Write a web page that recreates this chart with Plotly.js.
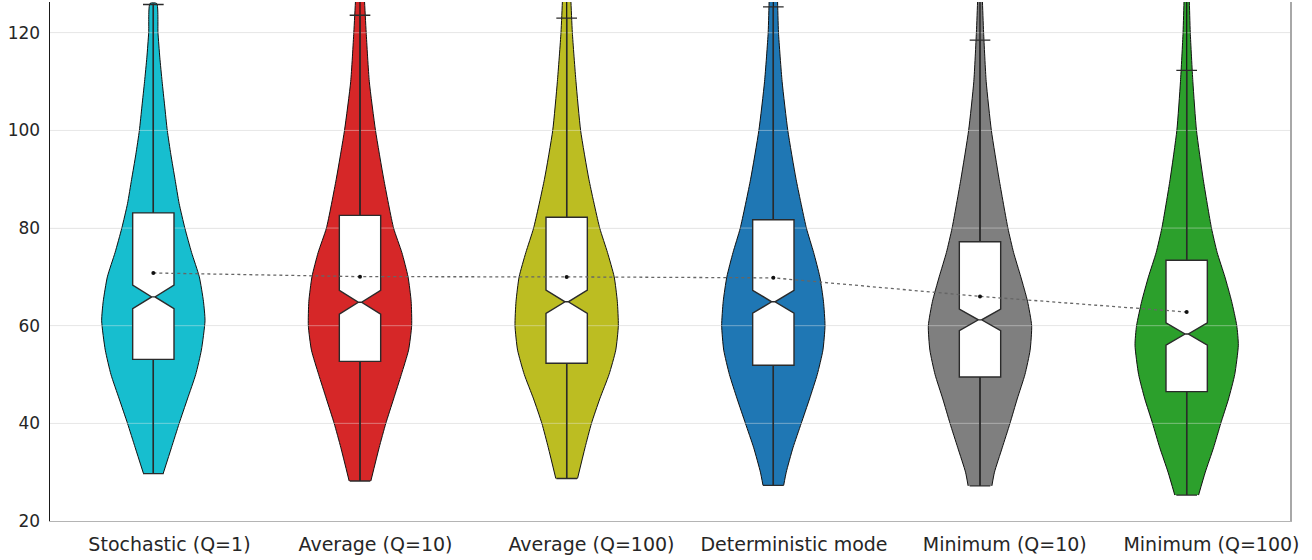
<!DOCTYPE html>
<html>
<head>
<meta charset="utf-8">
<script src="https://cdn.plot.ly/plotly-3.0.1.min.js"></script>
<style>html,body{margin:0;padding:0;background:#fff;}#chart{width:1312px;height:560px;}</style>
</head>
<body>
<div id="chart"></div>
<script>
// ---- data ----
const categories = ["Stochastic (Q=1)", "Average (Q=10)", "Average (Q=100)", "Deterministic mode", "Minimum (Q=10)", "Minimum (Q=100)"];
const colors = ["#17becf", "#d62728", "#bcbd22", "#1f77b4", "#7f7f7f", "#2ca02c"];

const q1Values      = [53.1, 52.7, 52.3, 51.9, 49.5, 46.5];
const medianValues  = [65.9, 64.8, 64.9, 64.9, 61.2, 58.3];
const q3Values      = [83.1, 82.6, 82.2, 81.7, 77.2, 73.4];
const minValues     = [29.7, 28.2, 28.7, 27.3, 27.2, 25.3];
const upperWhisker  = [125.8, 123.6, 123.0, 125.3, 118.5, 112.3];
const maxValues     = [126.0, 134, 134, 134, 134, 134];
const notchHalfSpan = [2.4, 2.45, 2.4, 2.35, 2.2, 2.3];
const meanValues    = [70.8, 70.05, 70.0, 69.8, 66.0, 62.8];

// violin density profiles (relative width, 1 = widest) at the listed levels
const levels1 = [29.7, 35, 40, 45, 50, 55, 61, 65, 70, 75, 80, 85, 90, 95, 100, 105, 110, 115, 120, 126.0];
const dens1   = [0.19, 0.35, 0.50, 0.66, 0.82, 0.93, 1.00, 0.97, 0.89, 0.74, 0.61, 0.50, 0.42, 0.34, 0.27, 0.22, 0.17, 0.125, 0.09, 0.065];
const levels2 = [28.2, 35, 40, 45, 50, 55, 60, 65, 70, 75, 80, 90, 100, 110, 120, 127, 134];
const dens2   = [0.21, 0.37, 0.50, 0.65, 0.80, 0.94, 1.00, 0.99, 0.93, 0.81, 0.65, 0.46, 0.30, 0.18, 0.12, 0.085, 0.05];
const levels3 = [28.7, 35, 40, 45, 50, 55, 60, 65, 70, 75, 80, 90, 100, 110, 120, 127, 134];
const dens3   = [0.21, 0.355, 0.48, 0.64, 0.82, 0.95, 1.00, 0.98, 0.92, 0.79, 0.64, 0.43, 0.27, 0.18, 0.11, 0.08, 0.05];
const levels4 = [27.3, 30, 35, 40, 45, 50, 55, 60, 65, 70, 75, 80, 90, 100, 110, 120, 127, 134];
const dens4   = [0.20, 0.25, 0.38, 0.54, 0.70, 0.85, 0.96, 1.00, 0.97, 0.90, 0.78, 0.64, 0.44, 0.28, 0.17, 0.10, 0.08, 0.05];
const levels5 = [27.2, 30, 35, 40, 45, 50, 55, 60, 65, 70, 75, 80, 90, 100, 110, 120, 127, 134];
const dens5   = [0.23, 0.28, 0.43, 0.58, 0.72, 0.87, 0.97, 1.00, 0.92, 0.79, 0.65, 0.54, 0.37, 0.22, 0.12, 0.07, 0.045, 0.03];
const levels6 = [25.3, 30, 35, 40, 45, 50, 56, 60, 65, 70, 75, 80, 90, 100, 110, 120, 127, 134];
const dens6   = [0.23, 0.36, 0.52, 0.66, 0.81, 0.93, 1.00, 0.97, 0.87, 0.74, 0.59, 0.48, 0.32, 0.19, 0.12, 0.07, 0.05, 0.03];

const violinLevels = [levels1, levels2, levels3, levels4, levels5, levels6];
const violinDens   = [dens1, dens2, dens3, dens4, dens5, dens6];

const yTicks = [20, 40, 60, 80, 100, 120];

// ---- presentation settings ----
const HALF = 0.25;                         // half of the widest violin, category units
const labelShift = [0.078, 0.075, 0.12, 0.1, 0.12, 0.12]; // tick-label offsets seen in the reference
const xRange = [-0.5, 5.5];
const yRange = [20, 126.3];

// ---- build traces ----
const positions = categories.map((_, i) => i);
const traces = [];
violinLevels.forEach((lv, i) => {
  const d = violinDens[i];
  const c = positions[i];
  const xs = [], ys = [];
  for (let k = 0; k < lv.length; k++) { xs.push(c + HALF * d[k]); ys.push(lv[k]); }
  for (let k = lv.length - 1; k >= 0; k--) { xs.push(c - HALF * d[k]); ys.push(lv[k]); }
  traces.push({
    type: 'scatter', mode: 'lines', x: xs, y: ys,
    fill: 'toself', fillcolor: colors[i],
    line: {color: '#111111', width: 1, shape: 'spline', smoothing: 0.55},
    hoverinfo: 'skip', showlegend: false, name: categories[i]
  });
});

// the grid shows through the violins in the reference: light streaks above the fills
const gX = [], gY = [];
yTicks.slice(1).forEach(t => { gX.push(xRange[0], xRange[1], null); gY.push(t, t, null); });
traces.push({
  type: 'scatter', mode: 'lines', x: gX, y: gY,
  line: {color: 'rgba(235,235,235,0.42)', width: 1}, hoverinfo: 'skip', showlegend: false
});

// centre bars min -> max
const barX = [], barY = [];
positions.forEach((p, i) => { barX.push(p, p, null); barY.push(minValues[i], maxValues[i], null); });
traces.push({
  type: 'scatter', mode: 'lines', x: barX, y: barY,
  line: {color: '#1a1a1a', width: 1.3}, hoverinfo: 'skip', showlegend: false
});

// notched boxes (overlay subplot so they sit above the violins)
traces.push({
  type: 'box', x: positions, xaxis: 'x', yaxis: 'y2',
  q1: q1Values, median: medianValues, q3: q3Values,
  lowerfence: minValues, upperfence: upperWhisker,
  notched: true, notchspan: notchHalfSpan, notchwidth: 0.46,
  width: 0.2, whiskerwidth: 0.5,
  fillcolor: '#ffffff', line: {color: '#2b2b2b', width: 1.4},
  boxpoints: false, hoverinfo: 'skip', showlegend: false
});

// means joined by a dotted line
traces.push({
  type: 'scatter', mode: 'lines+markers', x: positions, y: meanValues,
  xaxis: 'x', yaxis: 'y2',
  line: {color: '#666666', width: 1.3, dash: 'dot'},
  marker: {color: '#111111', size: 4},
  hoverinfo: 'skip', showlegend: false
});

const layout = {
  width: 1312, height: 560,
  margin: {l: 50, r: 22, t: 2, b: 39},
  paper_bgcolor: '#ffffff', plot_bgcolor: '#ffffff',
  showlegend: false,
  font: {family: 'DejaVu Sans', color: '#262626'},
  xaxis: {
    range: xRange, tickvals: positions.map((p, i) => p + labelShift[i]), ticktext: categories,
    showgrid: false, zeroline: false, showline: true, linecolor: '#b4b4b4', linewidth: 1,
    ticks: '', tickfont: {family: 'DejaVu Sans', size: 19, color: '#262626'},
    ticklabelstandoff: 6, fixedrange: true
  },
  yaxis: {
    range: yRange, tickvals: yTicks,
    showgrid: true, gridcolor: '#e6e6e6', gridwidth: 1,
    zeroline: false, showline: true, linecolor: '#1a1a1a', linewidth: 1.5,
    ticks: '', tickfont: {family: 'DejaVu Sans', size: 17, color: '#262626'},
    ticklabelstandoff: 5, fixedrange: true
  },
  yaxis2: {
    overlaying: 'y', side: 'right', range: yRange,
    showgrid: false, zeroline: false, showticklabels: false, ticks: '',
    showline: true, linecolor: '#a8a8a8', linewidth: 2, fixedrange: true
  }
};

Plotly.newPlot('chart', traces, layout, {staticPlot: true, displayModeBar: false});
</script>
</body>
</html>
